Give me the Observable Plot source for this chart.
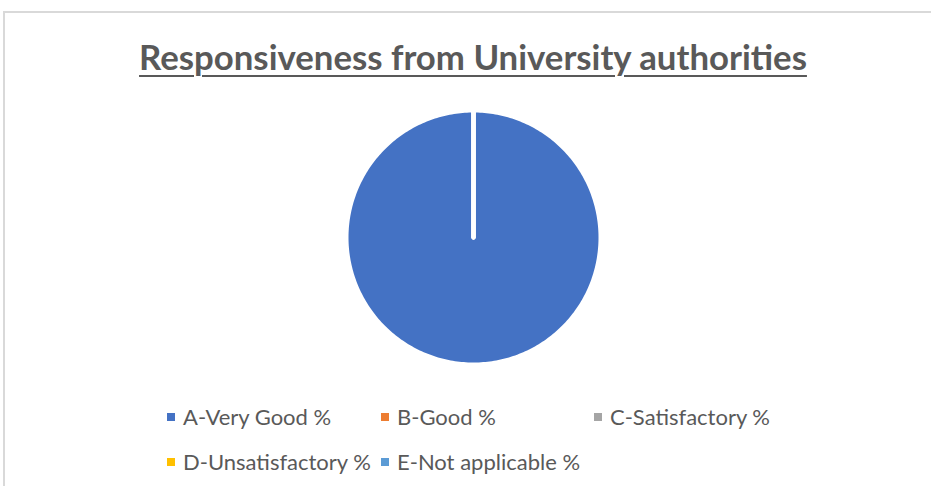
<!DOCTYPE html>
<html>
<head>
<meta charset="utf-8">
<script src="https://cdn.jsdelivr.net/npm/d3@7"></script>
<script src="https://cdn.jsdelivr.net/npm/@observablehq/plot@0.6"></script>
<style>
  html, body { margin: 0; padding: 0; background: #fff; }
  #frame { position: relative; width: 931px; height: 486px; overflow: hidden; font-family: Lato, "Open Sans", sans-serif; color: #595959; }
  #bt { position: absolute; left: 3px; top: 11px; width: 928px; height: 1.5px; background: #d9d9d9; }
  #bl { position: absolute; left: 3px; top: 11px; width: 1.5px; height: 475px; background: #d9d9d9; }
  #title { position: absolute; top: 36px; left: 0; width: 946px; text-align: center; font-weight: bold; font-size: 30px; white-space: nowrap; }
  #title span { display: inline-block; text-decoration: underline; text-decoration-thickness: 2px; text-underline-offset: 5px; }
  #chart { position: absolute; left: 343px; top: 107px; }
  .li { position: absolute; font-size: 22px; white-space: nowrap; line-height: 24px; }
  .sw { position: absolute; width: 8px; height: 8px; top: 8px; left: 0; }
  .lt { position: absolute; left: 16px; top: 0; }
</style>
</head>
<body>
<div id="frame">
  <div id="bt"></div>
  <div id="bl"></div>
  <div id="title"><span id="ttext">Responsiveness from University authorities</span></div>
  <div id="chart"></div>
  <div id="legend"></div>
</div>
<script>
const titleText = "Responsiveness from University authorities";
const categories = ["A-Very Good %", "B-Good %", "C-Satisfactory %", "D-Unsatisfactory %", "E-Not applicable %"];
const values = [100, 0, 0, 0, 0];
const colors = ["#4472C4", "#ED7D31", "#A5A5A5", "#FFC000", "#5B9BD5"];

// fit title width
const tt = document.getElementById("ttext");
tt.textContent = titleText;
let fs = 30;
tt.parentElement.style.fontSize = fs + "px";
const w0 = tt.getBoundingClientRect().width;
fs = fs * 668 / w0;
tt.parentElement.style.fontSize = fs + "px";

// pie slices via d3.pie, drawn as Plot lines in unit polar coordinates
const arcs = d3.pie().sort(null).value(d => d)(values);
const rows = [];
arcs.forEach((a, i) => {
  const key = categories[i];
  rows.push({key, x: 0, y: 0});
  const span = a.endAngle - a.startAngle;
  const n = Math.max(2, Math.ceil(span / (Math.PI / 180)));
  for (let k = 0; k <= n; k++) {
    const t = a.startAngle + span * k / n;
    rows.push({key, x: Math.sin(t), y: Math.cos(t)});
  }
  rows.push({key, x: 0, y: 0});
});

const R = 130 / 127;
const chart = Plot.plot({
  width: 260,
  height: 260,
  margin: 0,
  x: {domain: [-R, R], axis: null},
  y: {domain: [-R, R], axis: null},
  color: {domain: categories, range: colors},
  marks: [
    Plot.line(rows, {x: "x", y: "y", z: "key", fill: "key", stroke: "white", strokeWidth: 4, strokeLinejoin: "round", curve: "linear"})
  ]
});
document.getElementById("chart").appendChild(chart);

// legend
const pos = [[167, 405], [381, 405], [594, 405], [167, 450], [381, 450]];
const leg = document.getElementById("legend");
categories.forEach((c, i) => {
  const d = document.createElement("div");
  d.className = "li";
  d.style.left = pos[i][0] + "px";
  d.style.top = pos[i][1] + "px";
  const s = document.createElement("div");
  s.className = "sw";
  s.style.background = colors[i];
  const t = document.createElement("div");
  t.className = "lt";
  t.textContent = c;
  d.appendChild(s); d.appendChild(t);
  leg.appendChild(d);
});
</script>
</body>
</html>
